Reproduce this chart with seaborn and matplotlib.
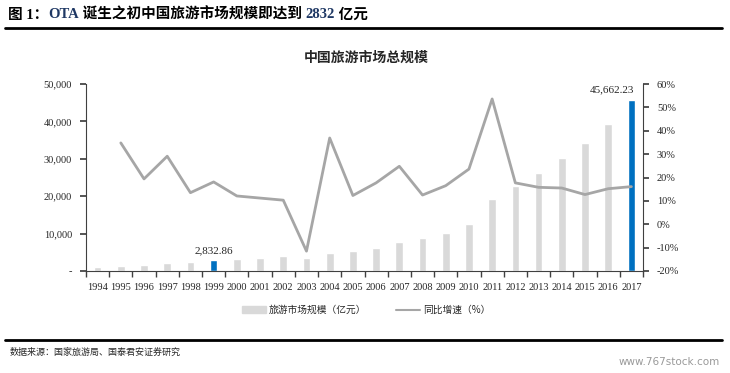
import numpy as np
import matplotlib
matplotlib.use("Agg")
import matplotlib.pyplot as plt
import seaborn as sns
from matplotlib.patches import Patch
from matplotlib.lines import Line2D
from matplotlib.ticker import FuncFormatter

# 数据
years = [str(y) for y in range(1994, 2018)]
scale = [1023.5, 1375.7, 1638.4, 2112.7, 2391.2, 2832.86, 3175.5, 3522.4, 3878.4,
         3442.3, 4710.7, 5285.9, 6229.7, 7770.6, 8749.3, 10183.7, 12579.8, 19305.4,
         22706.2, 26276.1, 30311.9, 34195.1, 39390.0, 45662.23]
growth_years = years[1:]
growth = [34.8, 19.4, 29.1, 13.5, 18.1, 12.1, 11.2, 10.3, -11.5, 36.9, 12.3,
          17.7, 24.8, 12.5, 16.5, 23.6, 53.6, 17.7, 15.8, 15.5, 12.7, 15.2, 16.1]
highlight = ["1999", "2017"]

sns.set_theme(style="white")
plt.rcParams['font.family'] = ['Liberation Serif', 'Noto Sans CJK SC', 'DejaVu Sans']
cjk = ['Noto Sans CJK SC', 'DejaVu Sans']

grey = "#D9D9D9"
blue = "#0070C0"
line_grey = "#A6A6A6"
navy = "#1F3864"

fig = plt.figure(figsize=(7.3, 3.73), dpi=100)
W, H = 730, 373
ax = fig.add_axes([86 / W, 1 - 271 / H, (643 - 86) / W, (271 - 84) / H])

colors = [blue if y in highlight else grey for y in years]
sns.barplot(x=years, y=scale, hue=years, palette=colors, legend=False,
            width=0.33, ax=ax, saturation=1)

ax.set_ylim(0, 50000)
ax.set_xlim(-0.5, len(years) - 0.5)
ax.set_yticks(range(0, 50001, 10000))
ax.yaxis.set_major_formatter(FuncFormatter(lambda v, p: "-" if v == 0 else f"{int(v):,}"))
ax.set_xticks(range(len(years)))
ax.set_xticklabels(years, fontsize=7.5)
ax.set_xticks(np.arange(-0.5, len(years)), minor=True)
ax.tick_params(axis='x', which='major', length=0, pad=9)
ax.tick_params(axis='x', which='minor', length=4, direction='out', color='#404040', bottom=True)
ax.tick_params(axis='y', length=4, direction='out', color='#404040', left=True, labelsize=7.5, pad=6)
ax.set_xlabel("")
ax.set_ylabel("")
for s in ["top", "right"]:
    ax.spines[s].set_visible(False)
for s in ["left", "bottom"]:
    ax.spines[s].set_color("#404040")
    ax.spines[s].set_linewidth(0.8)

# 数据标签
for y in highlight:
    i = years.index(y)
    v = scale[i]
    dx = -0.85 if y == "2017" else 0
    ax.text(i + dx, v + 1500, f"{v:,.2f}", ha="center", va="bottom", fontsize=8)

ax2 = ax.twinx()
xpos = [years.index(y) for y in growth_years]
sns.lineplot(x=xpos, y=growth, color=line_grey, linewidth=2, ax=ax2)
ax2.set_ylim(-20, 60)
ax2.set_yticks(range(-20, 61, 10))
ax2.yaxis.set_major_formatter(FuncFormatter(lambda v, p: f"{int(v)}%"))
ax2.tick_params(axis='y', length=4, direction='out', color='#404040', right=True, labelsize=7.5, pad=6)
for s in ["top", "left", "bottom"]:
    ax2.spines[s].set_visible(False)
ax2.spines["right"].set_color("#404040")
ax2.spines["right"].set_linewidth(0.8)
ax2.set_ylabel("")

# 图表标题
fig.text(366 / W, 1 - 58 / H, "中国旅游市场总规模", ha="center", va="center",
         fontsize=10, fontweight="bold", family=cjk)

# 图例
handles = [Patch(color=grey), Line2D([0], [0], color=line_grey, linewidth=1.5)]
fig.legend(handles, ["旅游市场规模（亿元）", "同比增速（%）"], loc="center",
           bbox_to_anchor=(366 / W, 1 - 310 / H), ncol=2, frameon=False,
           prop={'family': cjk, 'size': 7}, handlelength=2.5, handleheight=0.7,
           columnspacing=3, handletextpad=0.3)

# 顶部标题（分段着色）
segments = [("图 1：", "black"), ("OTA", navy), (" 诞生之初中国旅游市场规模即达到 ", "black"),
            ("2832", navy), (" 亿元", "black")]
fig.canvas.draw()
renderer = fig.canvas.get_renderer()
x = 8
for txt, col in segments:
    t = fig.text(x / W, 1 - 15 / H, txt, ha="left", va="center", fontsize=10.5,
                 fontweight="bold", color=col, family=['Liberation Serif', 'Noto Sans CJK SC'])
    bb = t.get_window_extent(renderer)
    x += bb.width

fig.add_artist(Line2D([5 / W, 722 / W], [1 - 28 / H] * 2, color="black", linewidth=2))
fig.add_artist(Line2D([5 / W, 722 / W], [1 - 340 / H] * 2, color="black", linewidth=2))

fig.text(10 / W, 1 - 352 / H, "数据来源：国家旅游局、国泰君安证券研究", ha="left", va="center",
         fontsize=6.5, family=cjk)
fig.text(720 / W, 1 - 362 / H, "www.767stock.com", ha="right", va="center",
         fontsize=7.5, color="#999999", family=['DejaVu Sans'])

fig.savefig("out.png", dpi=100)
